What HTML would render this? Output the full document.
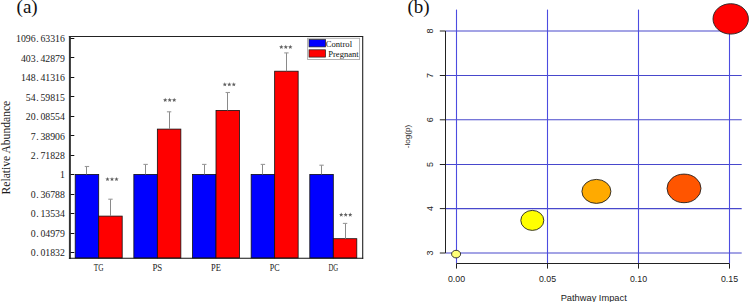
<!DOCTYPE html>
<html><head><meta charset="utf-8"><style>
html,body{margin:0;padding:0;background:#fff;width:749px;height:302px;overflow:hidden}
svg{display:block}
.serif{font-family:"Liberation Serif",serif}
.sans{font-family:"Liberation Sans",sans-serif}
</style></head><body>
<svg width="749" height="302" viewBox="0 0 749 302">
<rect x="0" y="0" width="749" height="302" fill="#fff"/>
<text class="serif" x="16.6" y="13.3" font-size="19" fill="#111">(a)</text>
<text class="serif" font-size="11.6" fill="#1a1a1a" text-anchor="middle" transform="translate(10.2,147.6) rotate(-90)">Relative Abundance</text>
<text class="serif" font-size="9.8" fill="#222" x="16.08 20.95 25.82 30.69 36.18 40.43 45.30 50.17 55.04 59.91" y="42.05">1096.63316</text>
<line x1="69.9" y1="38.50" x2="74.3" y2="38.50" stroke="#111" stroke-width="1"/>
<text class="serif" font-size="9.8" fill="#222" x="20.95 25.82 30.69 36.18 40.43 45.30 50.17 55.04 59.91" y="61.54">403.42879</text>
<line x1="69.9" y1="57.50" x2="74.3" y2="57.50" stroke="#111" stroke-width="1"/>
<text class="serif" font-size="9.8" fill="#222" x="20.95 25.82 30.69 36.18 40.43 45.30 50.17 55.04 59.91" y="81.03">148.41316</text>
<line x1="69.9" y1="77.50" x2="74.3" y2="77.50" stroke="#111" stroke-width="1"/>
<text class="serif" font-size="9.8" fill="#222" x="25.82 30.69 36.18 40.43 45.30 50.17 55.04 59.91" y="100.52">54.59815</text>
<line x1="69.9" y1="96.50" x2="74.3" y2="96.50" stroke="#111" stroke-width="1"/>
<text class="serif" font-size="9.8" fill="#222" x="25.82 30.69 36.18 40.43 45.30 50.17 55.04 59.91" y="120.01">20.08554</text>
<line x1="69.9" y1="116.50" x2="74.3" y2="116.50" stroke="#111" stroke-width="1"/>
<text class="serif" font-size="9.8" fill="#222" x="30.69 36.18 40.43 45.30 50.17 55.04 59.91" y="139.50">7.38906</text>
<line x1="69.9" y1="135.50" x2="74.3" y2="135.50" stroke="#111" stroke-width="1"/>
<text class="serif" font-size="9.8" fill="#222" x="30.69 36.18 40.43 45.30 50.17 55.04 59.91" y="158.99">2.71828</text>
<line x1="69.9" y1="155.50" x2="74.3" y2="155.50" stroke="#111" stroke-width="1"/>
<text class="serif" font-size="9.8" fill="#222" x="59.91" y="178.48">1</text>
<line x1="69.9" y1="174.50" x2="74.3" y2="174.50" stroke="#111" stroke-width="1"/>
<text class="serif" font-size="9.8" fill="#222" x="30.69 36.18 40.43 45.30 50.17 55.04 59.91" y="197.97">0.36788</text>
<line x1="69.9" y1="194.50" x2="74.3" y2="194.50" stroke="#111" stroke-width="1"/>
<text class="serif" font-size="9.8" fill="#222" x="30.69 36.18 40.43 45.30 50.17 55.04 59.91" y="217.46">0.13534</text>
<line x1="69.9" y1="213.50" x2="74.3" y2="213.50" stroke="#111" stroke-width="1"/>
<text class="serif" font-size="9.8" fill="#222" x="30.69 36.18 40.43 45.30 50.17 55.04 59.91" y="236.95">0.04979</text>
<line x1="69.9" y1="233.50" x2="74.3" y2="233.50" stroke="#111" stroke-width="1"/>
<text class="serif" font-size="9.8" fill="#222" x="30.69 36.18 40.43 45.30 50.17 55.04 59.91" y="256.44">0.01832</text>
<line x1="69.9" y1="252.50" x2="74.3" y2="252.50" stroke="#111" stroke-width="1"/>
<rect x="75.20" y="174.4" width="23.5" height="83.60" fill="#0000ff" stroke="#111" stroke-width="0.8"/>
<rect x="98.70" y="216.1" width="23.5" height="41.90" fill="#ff0000" stroke="#111" stroke-width="0.8"/>
<line x1="86.50" y1="166.5" x2="86.50" y2="174.4" stroke="#8a8a8a" stroke-width="1"/>
<line x1="84.75" y1="166.5" x2="89.15" y2="166.5" stroke="#999" stroke-width="1.1"/>
<line x1="110.50" y1="199.2" x2="110.50" y2="216.1" stroke="#8a8a8a" stroke-width="1"/>
<line x1="108.25" y1="199.2" x2="112.65" y2="199.2" stroke="#999" stroke-width="1.1"/>
<polygon points="107.50,176.90 108.09,178.39 109.69,178.49 108.45,179.51 108.85,181.06 107.50,180.20 106.15,181.06 106.55,179.51 105.31,178.49 106.91,178.39" fill="#606060"/>
<polygon points="112.00,176.90 112.59,178.39 114.19,178.49 112.95,179.51 113.35,181.06 112.00,180.20 110.65,181.06 111.05,179.51 109.81,178.49 111.41,178.39" fill="#606060"/>
<polygon points="116.50,176.90 117.09,178.39 118.69,178.49 117.45,179.51 117.85,181.06 116.50,180.20 115.15,181.06 115.55,179.51 114.31,178.49 115.91,178.39" fill="#606060"/>
<text class="serif" font-size="9.4" fill="#222" text-anchor="middle" x="98.70" y="271.2" textLength="9.8" lengthAdjust="spacingAndGlyphs">TG</text>
<rect x="133.85" y="174.4" width="23.5" height="83.60" fill="#0000ff" stroke="#111" stroke-width="0.8"/>
<rect x="157.35" y="129.1" width="23.5" height="128.90" fill="#ff0000" stroke="#111" stroke-width="0.8"/>
<line x1="145.50" y1="164.4" x2="145.50" y2="174.4" stroke="#8a8a8a" stroke-width="1"/>
<line x1="143.40" y1="164.4" x2="147.80" y2="164.4" stroke="#999" stroke-width="1.1"/>
<line x1="169.50" y1="111.8" x2="169.50" y2="129.1" stroke="#8a8a8a" stroke-width="1"/>
<line x1="166.90" y1="111.8" x2="171.30" y2="111.8" stroke="#999" stroke-width="1.1"/>
<polygon points="165.20,97.80 165.79,99.29 167.39,99.39 166.15,100.41 166.55,101.96 165.20,101.10 163.85,101.96 164.25,100.41 163.01,99.39 164.61,99.29" fill="#606060"/>
<polygon points="169.70,97.80 170.29,99.29 171.89,99.39 170.65,100.41 171.05,101.96 169.70,101.10 168.35,101.96 168.75,100.41 167.51,99.39 169.11,99.29" fill="#606060"/>
<polygon points="174.20,97.80 174.79,99.29 176.39,99.39 175.15,100.41 175.55,101.96 174.20,101.10 172.85,101.96 173.25,100.41 172.01,99.39 173.61,99.29" fill="#606060"/>
<text class="serif" font-size="9.4" fill="#222" text-anchor="middle" x="157.35" y="271.2" textLength="9.8" lengthAdjust="spacingAndGlyphs">PS</text>
<rect x="192.50" y="174.4" width="23.5" height="83.60" fill="#0000ff" stroke="#111" stroke-width="0.8"/>
<rect x="216.00" y="110.4" width="23.5" height="147.60" fill="#ff0000" stroke="#111" stroke-width="0.8"/>
<line x1="204.50" y1="164.4" x2="204.50" y2="174.4" stroke="#8a8a8a" stroke-width="1"/>
<line x1="202.05" y1="164.4" x2="206.45" y2="164.4" stroke="#999" stroke-width="1.1"/>
<line x1="227.50" y1="92.5" x2="227.50" y2="110.4" stroke="#8a8a8a" stroke-width="1"/>
<line x1="225.55" y1="92.5" x2="229.95" y2="92.5" stroke="#999" stroke-width="1.1"/>
<polygon points="224.80,82.20 225.39,83.69 226.99,83.79 225.75,84.81 226.15,86.36 224.80,85.50 223.45,86.36 223.85,84.81 222.61,83.79 224.21,83.69" fill="#606060"/>
<polygon points="229.30,82.20 229.89,83.69 231.49,83.79 230.25,84.81 230.65,86.36 229.30,85.50 227.95,86.36 228.35,84.81 227.11,83.79 228.71,83.69" fill="#606060"/>
<polygon points="233.80,82.20 234.39,83.69 235.99,83.79 234.75,84.81 235.15,86.36 233.80,85.50 232.45,86.36 232.85,84.81 231.61,83.79 233.21,83.69" fill="#606060"/>
<text class="serif" font-size="9.4" fill="#222" text-anchor="middle" x="216.00" y="271.2" textLength="9.8" lengthAdjust="spacingAndGlyphs">PE</text>
<rect x="251.15" y="174.4" width="23.5" height="83.60" fill="#0000ff" stroke="#111" stroke-width="0.8"/>
<rect x="274.65" y="71.2" width="23.5" height="186.80" fill="#ff0000" stroke="#111" stroke-width="0.8"/>
<line x1="262.50" y1="164.4" x2="262.50" y2="174.4" stroke="#8a8a8a" stroke-width="1"/>
<line x1="260.70" y1="164.4" x2="265.10" y2="164.4" stroke="#999" stroke-width="1.1"/>
<line x1="286.50" y1="52.9" x2="286.50" y2="71.2" stroke="#8a8a8a" stroke-width="1"/>
<line x1="284.20" y1="52.9" x2="288.60" y2="52.9" stroke="#999" stroke-width="1.1"/>
<polygon points="281.30,44.80 281.89,46.29 283.49,46.39 282.25,47.41 282.65,48.96 281.30,48.10 279.95,48.96 280.35,47.41 279.11,46.39 280.71,46.29" fill="#606060"/>
<polygon points="285.80,44.80 286.39,46.29 287.99,46.39 286.75,47.41 287.15,48.96 285.80,48.10 284.45,48.96 284.85,47.41 283.61,46.39 285.21,46.29" fill="#606060"/>
<polygon points="290.30,44.80 290.89,46.29 292.49,46.39 291.25,47.41 291.65,48.96 290.30,48.10 288.95,48.96 289.35,47.41 288.11,46.39 289.71,46.29" fill="#606060"/>
<text class="serif" font-size="9.4" fill="#222" text-anchor="middle" x="274.65" y="271.2" textLength="9.8" lengthAdjust="spacingAndGlyphs">PC</text>
<rect x="309.80" y="174.4" width="23.5" height="83.60" fill="#0000ff" stroke="#111" stroke-width="0.8"/>
<rect x="333.30" y="238.7" width="23.5" height="19.30" fill="#ff0000" stroke="#111" stroke-width="0.8"/>
<line x1="321.50" y1="165.2" x2="321.50" y2="174.4" stroke="#8a8a8a" stroke-width="1"/>
<line x1="319.35" y1="165.2" x2="323.75" y2="165.2" stroke="#999" stroke-width="1.1"/>
<line x1="345.50" y1="223.4" x2="345.50" y2="238.7" stroke="#8a8a8a" stroke-width="1"/>
<line x1="342.85" y1="223.4" x2="347.25" y2="223.4" stroke="#999" stroke-width="1.1"/>
<polygon points="341.20,212.50 341.79,213.99 343.39,214.09 342.15,215.11 342.55,216.66 341.20,215.80 339.85,216.66 340.25,215.11 339.01,214.09 340.61,213.99" fill="#606060"/>
<polygon points="345.70,212.50 346.29,213.99 347.89,214.09 346.65,215.11 347.05,216.66 345.70,215.80 344.35,216.66 344.75,215.11 343.51,214.09 345.11,213.99" fill="#606060"/>
<polygon points="350.20,212.50 350.79,213.99 352.39,214.09 351.15,215.11 351.55,216.66 350.20,215.80 348.85,216.66 349.25,215.11 348.01,214.09 349.61,213.99" fill="#606060"/>
<text class="serif" font-size="9.4" fill="#222" text-anchor="middle" x="333.30" y="271.2" textLength="9.8" lengthAdjust="spacingAndGlyphs">DG</text>
<line x1="69.9" y1="36.0" x2="69.9" y2="258.8" stroke="#333" stroke-width="2"/>
<line x1="68.9" y1="36.5" x2="363.2" y2="36.5" stroke="#222" stroke-width="1.1"/>
<line x1="362.7" y1="36.5" x2="362.7" y2="258.8" stroke="#222" stroke-width="1.1"/>
<line x1="68.9" y1="258.3" x2="363.2" y2="258.3" stroke="#111" stroke-width="1.1"/>
<rect x="307.6" y="38.3" width="52.0" height="21.2" fill="#fff" stroke="#aaa" stroke-width="0.9"/>
<rect x="309.0" y="39.6" width="16.6" height="7.3" fill="#0000ff" stroke="#222" stroke-width="0.7"/>
<rect x="309.0" y="49.8" width="16.6" height="7.3" fill="#ff0000" stroke="#222" stroke-width="0.7"/>
<text class="serif" font-size="8.6" fill="#111" x="325.8" y="46.5">Control</text>
<text class="serif" font-size="8.6" fill="#111" x="328.2" y="56.6">Pregnant</text>
<text class="serif" x="407.5" y="12.9" font-size="19" fill="#111">(b)</text>
<line x1="445.5" y1="253.00" x2="741.7" y2="253.00" stroke="#4848cc" stroke-width="1.1"/>
<line x1="445.5" y1="208.60" x2="741.7" y2="208.60" stroke="#4848cc" stroke-width="1.1"/>
<line x1="445.5" y1="164.50" x2="741.7" y2="164.50" stroke="#4848cc" stroke-width="1.1"/>
<line x1="445.5" y1="119.80" x2="741.7" y2="119.80" stroke="#4848cc" stroke-width="1.1"/>
<line x1="445.5" y1="75.50" x2="741.7" y2="75.50" stroke="#4848cc" stroke-width="1.1"/>
<line x1="445.5" y1="31.00" x2="741.7" y2="31.00" stroke="#4848cc" stroke-width="1.1"/>
<line x1="456.50" y1="9.6" x2="456.50" y2="263.5" stroke="#4c4ce0" stroke-width="1.1"/>
<line x1="547.50" y1="9.6" x2="547.50" y2="263.5" stroke="#4c4ce0" stroke-width="1.1"/>
<line x1="638.50" y1="9.6" x2="638.50" y2="263.5" stroke="#4c4ce0" stroke-width="1.1"/>
<line x1="729.50" y1="9.6" x2="729.50" y2="263.5" stroke="#4c4ce0" stroke-width="1.1"/>
<line x1="445.5" y1="31.00" x2="445.5" y2="253.00" stroke="#222" stroke-width="1"/>
<line x1="439.8" y1="253.00" x2="445.5" y2="253.00" stroke="#222" stroke-width="1"/>
<text class="sans" font-size="9" fill="#222" text-anchor="middle" transform="translate(433.0,253.00) rotate(-90)">3</text>
<line x1="439.8" y1="208.60" x2="445.5" y2="208.60" stroke="#222" stroke-width="1"/>
<text class="sans" font-size="9" fill="#222" text-anchor="middle" transform="translate(433.0,208.60) rotate(-90)">4</text>
<line x1="439.8" y1="164.50" x2="445.5" y2="164.50" stroke="#222" stroke-width="1"/>
<text class="sans" font-size="9" fill="#222" text-anchor="middle" transform="translate(433.0,164.50) rotate(-90)">5</text>
<line x1="439.8" y1="119.80" x2="445.5" y2="119.80" stroke="#222" stroke-width="1"/>
<text class="sans" font-size="9" fill="#222" text-anchor="middle" transform="translate(433.0,119.80) rotate(-90)">6</text>
<line x1="439.8" y1="75.50" x2="445.5" y2="75.50" stroke="#222" stroke-width="1"/>
<text class="sans" font-size="9" fill="#222" text-anchor="middle" transform="translate(433.0,75.50) rotate(-90)">7</text>
<line x1="439.8" y1="31.00" x2="445.5" y2="31.00" stroke="#222" stroke-width="1"/>
<text class="sans" font-size="9" fill="#222" text-anchor="middle" transform="translate(433.0,31.00) rotate(-90)">8</text>
<line x1="456.50" y1="263.5" x2="729.50" y2="263.5" stroke="#222" stroke-width="1"/>
<line x1="456.50" y1="263.5" x2="456.50" y2="268.6" stroke="#222" stroke-width="1"/>
<text class="sans" font-size="8.8" fill="#222" text-anchor="middle" x="456.50" y="281.6">0.00</text>
<line x1="547.50" y1="263.5" x2="547.50" y2="268.6" stroke="#222" stroke-width="1"/>
<text class="sans" font-size="8.8" fill="#222" text-anchor="middle" x="547.50" y="281.6">0.05</text>
<line x1="638.50" y1="263.5" x2="638.50" y2="268.6" stroke="#222" stroke-width="1"/>
<text class="sans" font-size="8.8" fill="#222" text-anchor="middle" x="638.50" y="281.6">0.10</text>
<line x1="729.50" y1="263.5" x2="729.50" y2="268.6" stroke="#222" stroke-width="1"/>
<text class="sans" font-size="8.8" fill="#222" text-anchor="middle" x="729.50" y="281.6">0.15</text>
<text class="sans" font-size="9.3" fill="#222" text-anchor="middle" x="593.7" y="300.5">Pathway Impact</text>
<text class="sans" font-size="8.1" fill="#222" text-anchor="middle" transform="translate(410.4,136.6) rotate(-90)">-log(p)</text>
<ellipse cx="456.1" cy="254.1" rx="4.5" ry="3.8" fill="#ffff77" stroke="#222" stroke-width="0.9"/>
<ellipse cx="532.3" cy="220.4" rx="11.5" ry="10.0" fill="#ffff00" stroke="#222" stroke-width="0.9"/>
<ellipse cx="596.4" cy="191.4" rx="14.5" ry="12.0" fill="#ffaa00" stroke="#222" stroke-width="0.9"/>
<ellipse cx="684.0" cy="188.4" rx="17.0" ry="14.3" fill="#ff5500" stroke="#222" stroke-width="0.9"/>
<ellipse cx="730.7" cy="18.9" rx="17.7" ry="15.2" fill="#ff0000" stroke="#222" stroke-width="0.9"/>
</svg></body></html>
